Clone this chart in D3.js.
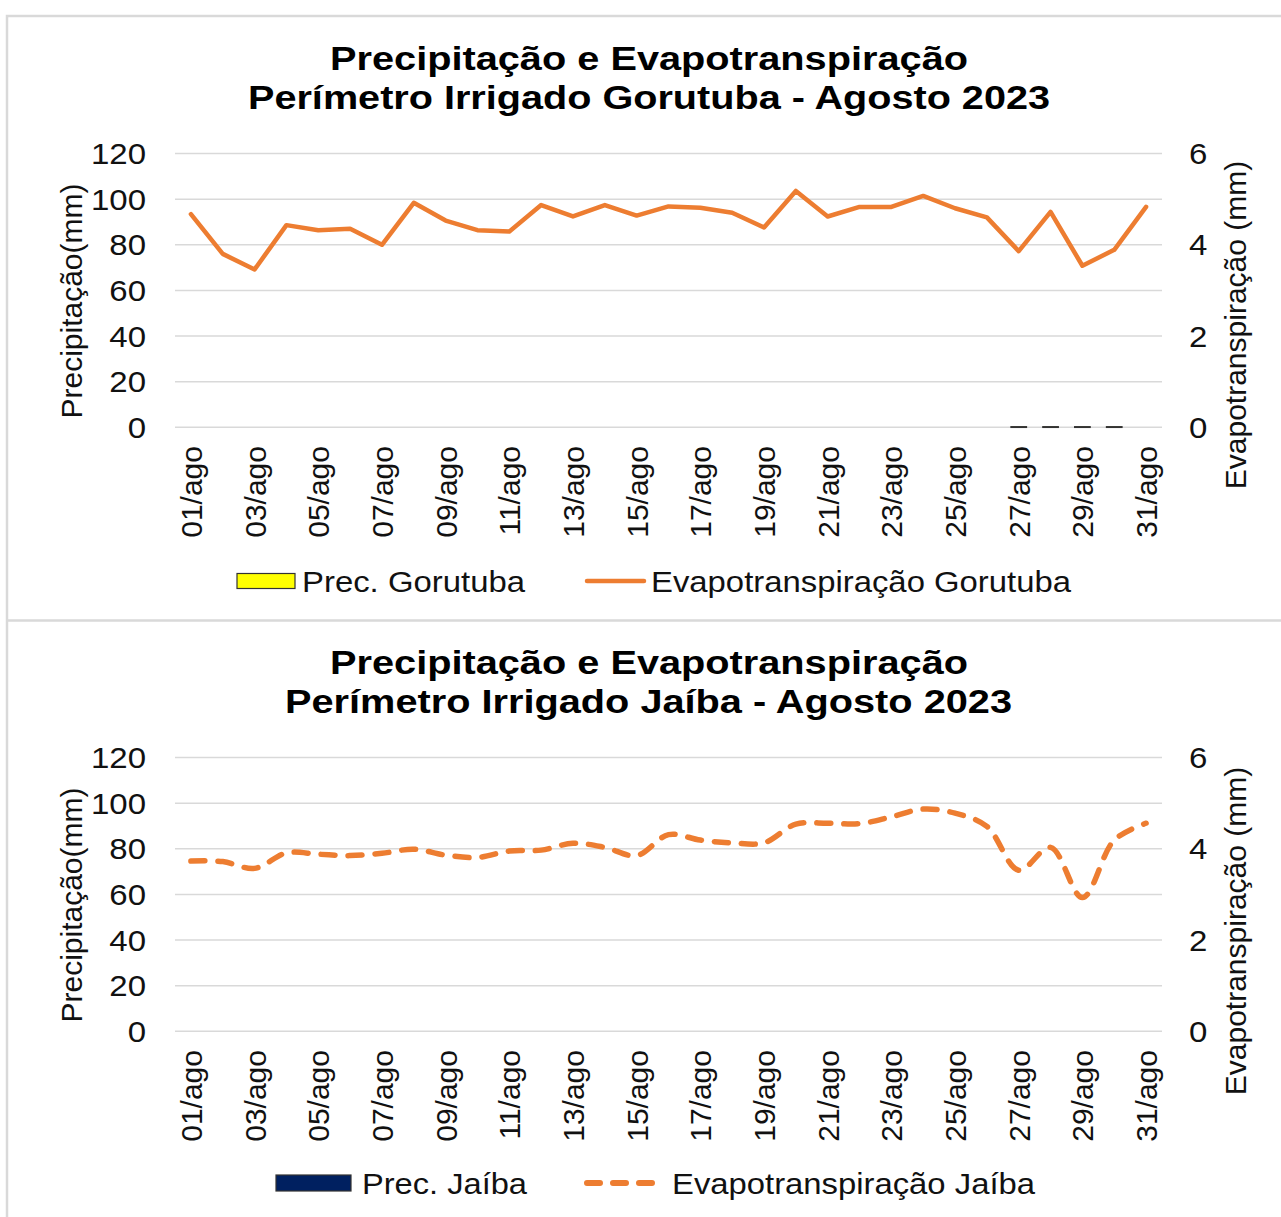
<!DOCTYPE html>
<html><head><meta charset="utf-8">
<script src="https://cdn.jsdelivr.net/npm/d3@7"></script>
<style>
html,body{margin:0;padding:0;background:#fff;}
svg{display:block;font-family:"Liberation Sans",Arial,sans-serif;}
</style></head>
<body>
<svg id="chart" width="1281" height="1217"></svg>
<script>
// ---------- DATA ----------
const days = ["01/ago","02/ago","03/ago","04/ago","05/ago","06/ago","07/ago","08/ago","09/ago","10/ago",
  "11/ago","12/ago","13/ago","14/ago","15/ago","16/ago","17/ago","18/ago","19/ago","20/ago",
  "21/ago","22/ago","23/ago","24/ago","25/ago","26/ago","27/ago","28/ago","29/ago","30/ago","31/ago"];
const precTicks = [0,20,40,60,80,100,120];
const etTicks = [0,2,4,6];

const precGorutuba = [null,null,null,null,null,null,null,null,null,null,
  null,null,null,null,null,null,null,null,null,null,
  null,null,null,null,null,null,0,0,0,0,null];
const etGorutuba = [4.67,3.80,3.46,4.43,4.32,4.35,4.00,4.92,4.53,4.32,
  4.29,4.87,4.62,4.87,4.64,4.84,4.81,4.70,4.38,5.18,
  4.62,4.83,4.83,5.07,4.80,4.60,3.86,4.72,3.54,3.89,4.83];

const precJaiba = [null,null,null,null,null,null,null,null,null,null,
  null,null,null,null,null,null,null,null,null,null,
  null,null,null,null,null,null,null,null,null,null,null];
const etJaiba = [3.73,3.72,3.57,3.91,3.88,3.85,3.90,3.99,3.86,3.81,
  3.95,3.97,4.12,4.03,3.85,4.31,4.19,4.13,4.13,4.54,
  4.56,4.55,4.70,4.87,4.78,4.49,3.53,4.03,2.93,4.19,4.56];

// ---------- DRAW ----------
const svg = d3.select("#chart");
const ORANGE = "#ED7D31";
const TXT = "#111";

function stretch(sel, f){
  sel.each(function(){
    const len = this.getComputedTextLength();
    d3.select(this).attr("textLength", len*f).attr("lengthAdjust","spacingAndGlyphs");
  });
}

// frame
svg.append("rect").attr("x",7).attr("y",16).attr("width",1300).attr("height",1230)
  .attr("fill","none").attr("stroke","#d9d9d9").attr("stroke-width",2.5);
svg.append("line").attr("x1",7).attr("x2",1300).attr("y1",620.5).attr("y2",620.5)
  .attr("stroke","#d9d9d9").attr("stroke-width",2.5);

function drawChart(cfg){
  const g = svg.append("g").attr("transform",`translate(0,${cfg.dy})`);
  const x = d3.scaleBand().domain(days).range([175,1162]).padding(0);
  const cx = d => x(d) + x.bandwidth()/2;
  const yP = d3.scaleLinear().domain([0,120]).range([427.3,153.5]);
  const yE = d3.scaleLinear().domain([0,6]).range([427.3,153.5]);

  // titles
  g.append("text").attr("x",649).attr("y",70).attr("text-anchor","middle")
    .attr("font-weight","bold").attr("font-size",34).attr("fill","#000")
    .attr("textLength",638).attr("lengthAdjust","spacingAndGlyphs")
    .text("Precipitação e Evapotranspiração");
  g.append("text").attr("x",cfg.t2x + cfg.t2w/2).attr("y",109).attr("text-anchor","middle")
    .attr("font-weight","bold").attr("font-size",34).attr("fill","#000")
    .attr("textLength",cfg.t2w).attr("lengthAdjust","spacingAndGlyphs")
    .text(cfg.title2);

  // gridlines
  g.append("g").selectAll("line").data(precTicks).join("line")
    .attr("x1",175).attr("x2",1162)
    .attr("y1",d=>yP(d)).attr("y2",d=>yP(d))
    .attr("stroke","#d9d9d9").attr("stroke-width",1.5);

  // left tick labels
  g.append("g").selectAll("text").data(precTicks).join("text")
    .attr("x",146).attr("y",d=>yP(d)).attr("dy","0.35em")
    .attr("text-anchor","end").attr("font-size",30).attr("fill",TXT)
    .text(d=>d).call(stretch,1.1);
  // right tick labels
  g.append("g").selectAll("text").data(etTicks).join("text")
    .attr("x",1189).attr("y",d=>yE(d)).attr("dy","0.35em")
    .attr("text-anchor","start").attr("font-size",30).attr("fill",TXT)
    .text(d=>d).call(stretch,1.1);

  // axis titles
  g.append("text").attr("transform","translate(82,301) rotate(-90)")
    .attr("text-anchor","middle").attr("font-size",30).attr("fill",TXT)
    .text("Precipitação(mm)");
  g.append("text").attr("transform",`translate(1246,${cfg.rty}) rotate(-90)`)
    .attr("text-anchor","middle").attr("font-size",30).attr("fill",TXT)
    .text("Evapotranspiração (mm)");

  // x tick labels (odd days)
  g.append("g").selectAll("text").data(days.filter((d,i)=>i%2===0)).join("text")
    .attr("transform",d=>`translate(${cx(d)+11},446) rotate(-90)`)
    .attr("text-anchor","end").attr("font-size",30).attr("fill",TXT)
    .text(d=>d);

  // precipitation bars
  const bw = x.bandwidth()*0.48;
  g.append("g").selectAll("rect")
    .data(days.map((d,i)=>({d, v: cfg.prec[i]})).filter(o=>o.v!==null))
    .join("rect")
    .attr("x",o=>cx(o.d)-bw/2).attr("width",bw)
    .attr("y",o=>yP(o.v)-0.5).attr("height",o=>Math.max(yP(0)-yP(o.v),0)+0.5)
    .attr("fill",cfg.barColor).attr("stroke","#333").attr("stroke-width",1.5);

  // ET line
  const line = d3.line().x((v,i)=>cx(days[i])).y(v=>yE(v)).curve(cfg.curve);
  const path = g.append("path").datum(cfg.et).attr("d",line)
    .attr("fill","none").attr("stroke",ORANGE).attr("stroke-width",cfg.dashed?5.5:4.5)
    .attr("stroke-linejoin","round").attr("stroke-linecap","round");
  if(cfg.dashed) path.attr("stroke-dasharray","14,13");

  // legend
  const lg = g.append("g");
  lg.append("rect").attr("x",cfg.lg.rx).attr("y",cfg.lg.ry).attr("width",cfg.lg.rw).attr("height",cfg.lg.rh)
    .attr("fill",cfg.barColor).attr("stroke","#333").attr("stroke-width",1.2);
  lg.append("text").attr("x",cfg.lg.t1x).attr("y",cfg.lg.ty).attr("font-size",30).attr("fill",TXT)
    .attr("textLength",cfg.lg.t1w).attr("lengthAdjust","spacingAndGlyphs").text(cfg.lg.t1);
  const ll = lg.append("line").attr("x1",cfg.lg.lx1).attr("x2",cfg.lg.lx2)
    .attr("y1",cfg.lg.ly).attr("y2",cfg.lg.ly)
    .attr("stroke",ORANGE).attr("stroke-width",cfg.dashed?6:4.5).attr("stroke-linecap","round");
  if(cfg.dashed) ll.attr("stroke-dasharray","13,13");
  lg.append("text").attr("x",cfg.lg.t2x).attr("y",cfg.lg.ty).attr("font-size",30).attr("fill",TXT)
    .attr("textLength",cfg.lg.t2w).attr("lengthAdjust","spacingAndGlyphs").text(cfg.lg.t2);
}

drawChart({
  dy:0, title2:"Perímetro Irrigado Gorutuba - Agosto 2023", t2x:248, t2w:802, rty:325,
  prec:precGorutuba, et:etGorutuba, barColor:"#FFFF00", dashed:false, curve:d3.curveLinear,
  lg:{rx:237,ry:573.5,rw:58,rh:15,t1x:302,t1w:223,t1:"Prec. Gorutuba",ty:592,
      lx1:587,lx2:644,ly:581,t2x:651,t2w:420,t2:"Evapotranspiração Gorutuba"}
});
drawChart({
  dy:604, title2:"Perímetro Irrigado Jaíba - Agosto 2023", t2x:285, t2w:727, rty:327,
  prec:precJaiba, et:etJaiba, barColor:"#002060", dashed:true, curve:d3.curveCatmullRom,
  lg:{rx:276,ry:571,rw:75,rh:16,t1x:362,t1w:165,t1:"Prec. Jaíba",ty:590,
      lx1:587,lx2:657,ly:579,t2x:672,t2w:363,t2:"Evapotranspiração Jaíba"}
});
</script>
</body></html>
